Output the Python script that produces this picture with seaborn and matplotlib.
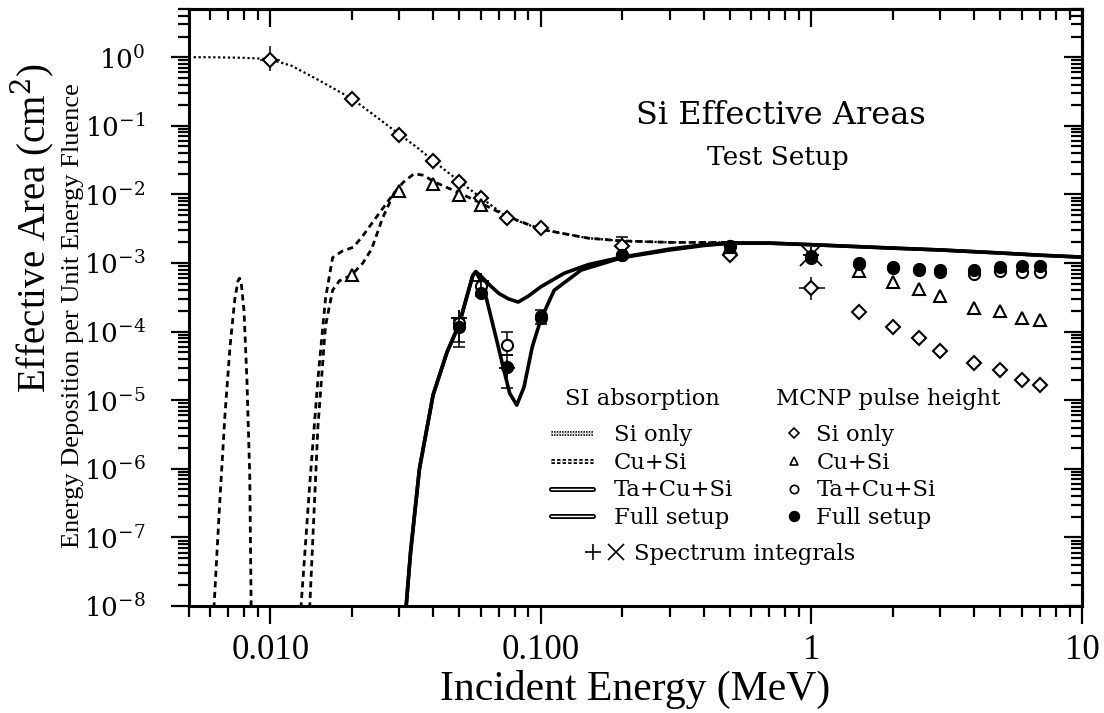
import numpy as np
import matplotlib
matplotlib.use("Agg")
import matplotlib.pyplot as plt
import matplotlib.patheffects as pe
import seaborn as sns
from matplotlib.lines import Line2D
from matplotlib.legend_handler import HandlerTuple
from matplotlib.ticker import FixedLocator, LogLocator, NullFormatter, FixedFormatter

# ---------------- data: SI absorption calculations (curves) ----------------
si_only_E = [0.005, 0.006, 0.007, 0.008, 0.009, 0.010, 0.012, 0.015, 0.020, 0.025, 0.030,
             0.035, 0.040, 0.050, 0.060, 0.075, 0.100, 0.150, 0.200, 0.300, 0.500, 0.700,
             1.0, 2.0, 3.0, 5.0, 7.0, 10.0]
si_only_A = [1.0, 1.0, 0.99, 0.98, 0.96, 0.93, 0.75, 0.47, 0.25, 0.13, 0.075,
             0.048, 0.031, 0.0155, 0.0090, 0.0047, 0.0031, 0.0023, 0.0021, 0.0020, 0.0020, 0.00195,
             0.00185, 0.00165, 0.00155, 0.0014, 0.0013, 0.00122]

cu_si_E = [0.0060, 0.0062, 0.0065, 0.0068, 0.0071, 0.0074, 0.0076, 0.0077, 0.0078, 0.0080,
           0.0082, 0.0084, 0.0085, 0.0087, 0.0128, 0.0130, 0.0140, 0.0150, 0.0160, 0.0170,
           0.0185, 0.0203, 0.0220, 0.0250, 0.0287, 0.0310, 0.0340, 0.0370, 0.0400, 0.0500,
           0.0600, 0.0750, 0.1000, 0.1500, 0.2000, 0.3000, 0.5000, 0.7, 1.0, 2.0, 3.0, 5.0, 7.0, 10.0]
cu_si_A = [1e-10, 1e-8, 3e-7, 6e-6, 6e-5, 3e-4, 5.5e-4, 6e-4, 5.5e-4, 2e-4,
           2e-5, 8e-7, 1e-8, 1e-10, 1e-10, 1e-8, 6e-7, 2e-5, 3e-4, 1.2e-3,
           1.5e-3, 1.7e-3, 2.5e-3, 5e-3, 0.0105, 0.015, 0.020, 0.019, 0.0155, 0.0105,
           0.0075, 0.0048, 0.0031, 0.0023, 0.0021, 0.0020, 0.0020, 0.00195, 0.00185, 0.00165,
           0.00155, 0.0014, 0.0013, 0.00122]

cu_si_b_E = [0.0138, 0.0140, 0.0150, 0.0160, 0.0170, 0.0180, 0.0200, 0.0220, 0.0237, 0.0260, 0.0287]
cu_si_b_A = [1e-10, 1e-8, 4e-6, 1.2e-4, 4e-4, 5.5e-4, 6.7e-4, 1.0e-3, 1.6e-3, 4.5e-3, 0.0105]

ta_cu_si_E = [0.0310, 0.0318, 0.0330, 0.0356, 0.0400, 0.0450, 0.0500, 0.0530, 0.0560, 0.0575,
              0.0600, 0.0650, 0.0700, 0.0760, 0.0825, 0.0900, 0.1000, 0.1220, 0.1500, 0.2000,
              0.3000, 0.4000, 0.5000, 0.7, 1.0, 2.0, 3.0, 5.0, 7.0, 10.0]
ta_cu_si_A = [1e-10, 1e-8, 6e-8, 1e-6, 1.2e-5, 5e-5, 1.3e-4, 3e-4, 6.5e-4, 7.5e-4,
              6.5e-4, 4.7e-4, 3.6e-4, 3.0e-4, 2.7e-4, 3.3e-4, 4.5e-4, 7.1e-4, 9.5e-4, 1.22e-3,
              1.6e-3, 1.85e-3, 1.95e-3, 1.95e-3, 1.85e-3, 1.65e-3, 1.55e-3, 1.4e-3, 1.3e-3, 1.22e-3]

full_E = [0.0310, 0.0318, 0.0330, 0.0356, 0.0400, 0.0450, 0.0500, 0.0530, 0.0560, 0.0575,
          0.0600, 0.0630, 0.0658, 0.0690, 0.0715, 0.0767, 0.0815, 0.0867, 0.0930, 0.1000,
          0.1120, 0.1410, 0.2000, 0.3000, 0.4000, 0.5000, 0.7, 1.0, 2.0, 3.0, 5.0, 7.0, 10.0]
full_A = [1e-10, 1e-8, 6e-8, 1e-6, 1.2e-5, 5e-5, 1.3e-4, 3e-4, 6.5e-4, 7.5e-4,
          5.5e-4, 3e-4, 1.5e-4, 7e-5, 3.9e-5, 1.27e-5, 8.5e-6, 1.56e-5, 6e-5, 1.5e-4,
          4.0e-4, 7.9e-4, 1.2e-3, 1.55e-3, 1.8e-3, 1.95e-3, 1.95e-3, 1.85e-3, 1.65e-3, 1.55e-3,
          1.4e-3, 1.3e-3, 1.22e-3]

# ---------------- data: MCNP pulse height (markers) ----------------
mc_si_E = [0.01, 0.02, 0.03, 0.04, 0.05, 0.06, 0.075, 0.1, 0.2, 0.5, 1.0,
           1.5, 2.0, 2.5, 3.0, 4.0, 5.0, 6.0, 7.0]
mc_si_A = [0.91, 0.246, 0.073, 0.031, 0.0152, 0.0089, 0.0045, 0.0032, 0.0018, 0.0013, 4.3e-4,
           1.93e-4, 1.17e-4, 8.1e-5, 5.2e-5, 3.5e-5, 2.8e-5, 2.0e-5, 1.65e-5]

mc_cusi_E = [0.02, 0.03, 0.04, 0.05, 0.06, 0.5, 1.5, 2.0, 2.5, 3.0, 4.0, 5.0, 6.0, 7.0]
mc_cusi_A = [6.7e-4, 0.0112, 0.0142, 0.0098, 0.0069, 1.7e-3, 7.6e-4, 5.3e-4, 4.2e-4, 3.3e-4,
             2.2e-4, 2.0e-4, 1.6e-4, 1.5e-4]

mc_ta_E = [0.05, 0.06, 0.075, 0.1, 0.2, 0.5, 1.0, 1.5, 2.0, 2.5, 3.0, 4.0, 5.0, 6.0, 7.0]
mc_ta_A = [1.33e-4, 4.7e-4, 6.4e-5, 1.6e-4, 1.3e-3, 1.8e-3, 1.2e-3, 9.6e-4, 8.5e-4, 8.0e-4,
           7.5e-4, 7.0e-4, 7.6e-4, 7.4e-4, 7.4e-4]

mc_full_E = [0.05, 0.06, 0.075, 0.1, 0.2, 0.5, 1.0, 1.5, 2.0, 2.5, 3.0, 4.0, 5.0, 6.0, 7.0]
mc_full_A = [1.15e-4, 3.7e-4, 3.1e-5, 1.7e-4, 1.3e-3, 1.8e-3, 1.25e-3, 1.0e-3, 8.8e-4, 8.2e-4,
             7.8e-4, 7.8e-4, 8.8e-4, 9.0e-4, 9.0e-4]

# error bars with caps (value, lower, upper)
err_E = [0.05, 0.05, 0.06, 0.075, 0.075, 0.1, 0.2]
err_A = [1.33e-4, 1.15e-4, 4.7e-4, 6.4e-5, 3.1e-5, 1.7e-4, 1.8e-3]
err_lo = [7e-5, 6e-5, 3.3e-4, 4.6e-5, 1.5e-5, 1.3e-4, 1.8e-3]
err_hi = [1.6e-4, 1.5e-4, 5.5e-4, 1.0e-4, 4.5e-5, 2.1e-4, 2.4e-3]

# error crosses without caps on the Si-only points
cross_E = [0.01, 1.0]
cross_A = [0.91, 4.3e-4]
cross_lo = [0.62, 2.9e-4]
cross_hi = [1.45, 6.3e-4]
cross_xlo = [0.0092, 0.90]
cross_xhi = [0.0109, 1.12]

# spectrum integrals
spec_plus_E = [0.05, 0.06, 0.075, 1.0]
spec_plus_A = [1.6e-4, 5.5e-4, 3.0e-5, 1.3e-3]
spec_x_E = [1.0]
spec_x_A = [1.3e-3]

# ticks
x_major = [0.01, 0.1, 1, 10]
x_major_labels = ["0.010", "0.100", "1", "10"]
y_major = [1e-8, 1e-7, 1e-6, 1e-5, 1e-4, 1e-3, 1e-2, 1e-1, 1e0]
y_major_labels = [r"$10^{-8}$", r"$10^{-7}$", r"$10^{-6}$", r"$10^{-5}$", r"$10^{-4}$",
                  r"$10^{-3}$", r"$10^{-2}$", r"$10^{-1}$", r"$10^{0}$"]

# ---------------- style ----------------
sns.set_theme(style="ticks")
K = "black"
plt.rcParams.update({
    "font.family": ["DejaVu Serif"],
    "mathtext.fontset": "dejavuserif",
    "axes.linewidth": 2.2,
    "text.color": K, "axes.labelcolor": K, "axes.edgecolor": K,
    "xtick.color": K, "ytick.color": K,
    "xtick.labelcolor": K, "ytick.labelcolor": K,
})

fig = plt.figure(figsize=(11.04, 7.13), dpi=100)
ax = fig.add_axes([0.171, 0.150, 0.809, 0.837])
ax.set_xscale("log")
ax.set_yscale("log")

sns.lineplot(x=si_only_E, y=si_only_A, ax=ax, color=K, lw=1.6, linestyle=(0, (1, 1.2)),
             sort=False, estimator=None)
sns.lineplot(x=cu_si_E, y=cu_si_A, ax=ax, color=K, lw=2.0, linestyle=(0, (2.2, 1.6)),
             sort=False, estimator=None)
sns.lineplot(x=cu_si_b_E, y=cu_si_b_A, ax=ax, color=K, lw=2.0, linestyle=(0, (2.2, 1.6)),
             sort=False, estimator=None)
sns.lineplot(x=ta_cu_si_E, y=ta_cu_si_A, ax=ax, color=K, lw=2.6, sort=False, estimator=None)
sns.lineplot(x=full_E, y=full_A, ax=ax, color=K, lw=2.6, sort=False, estimator=None)

# error bars
ax.errorbar(err_E, err_A,
            yerr=[np.array(err_A) - np.array(err_lo), np.array(err_hi) - np.array(err_A)],
            fmt="none", ecolor=K, elinewidth=1.1, capsize=4, capthick=1.1, zorder=3)
ax.errorbar(cross_E, cross_A,
            yerr=[np.array(cross_A) - np.array(cross_lo), np.array(cross_hi) - np.array(cross_A)],
            xerr=[np.array(cross_E) - np.array(cross_xlo), np.array(cross_xhi) - np.array(cross_E)],
            fmt="none", ecolor=K, elinewidth=1.1, capsize=0, zorder=3)

# MCNP markers
ax.plot(mc_si_E, mc_si_A, ls="none", marker="D", ms=7, mfc="white", mec=K, mew=1.5, zorder=5)
ax.plot(mc_cusi_E, mc_cusi_A, ls="none", marker="^", ms=9, mfc="white", mec=K, mew=1.5, zorder=5)
ax.plot(mc_ta_E, mc_ta_A, ls="none", marker="o", ms=8, mfc="white", mec=K, mew=1.5, zorder=5)
ax.plot(mc_full_E, mc_full_A, ls="none", marker="o", ms=8, mfc=K, mec=K, mew=1.5, zorder=6)
ax.plot(spec_plus_E, spec_plus_A, ls="none", marker="+", ms=12, mec=K, mew=1.3, zorder=7)
ax.plot(spec_x_E, spec_x_A, ls="none", marker="x", ms=16, mec=K, mew=1.3, zorder=7)

ax.set_xlim(0.005, 10)
ax.set_ylim(1e-8, 5)

# ticks: bottom/left outward with labels
ax.xaxis.set_major_locator(FixedLocator(x_major))
ax.xaxis.set_major_formatter(FixedFormatter(x_major_labels))
ax.xaxis.set_minor_locator(LogLocator(base=10, subs=np.arange(2, 10)))
ax.xaxis.set_minor_formatter(NullFormatter())
ax.yaxis.set_major_locator(FixedLocator(y_major))
ax.yaxis.set_major_formatter(FixedFormatter(y_major_labels))
ax.yaxis.set_minor_locator(LogLocator(base=10, subs=np.arange(2, 10), numticks=30))
ax.yaxis.set_minor_formatter(NullFormatter())
ax.tick_params(which="both", direction="out", top=False, right=False, color=K, width=1.6)
ax.tick_params(which="major", length=13)
ax.tick_params(which="minor", length=8)
ax.tick_params(axis="x", which="major", labelsize=25, pad=7)
ax.tick_params(axis="y", which="major", labelsize=19, pad=18)
for t in ax.get_xticklabels():
    t.set_family("Liberation Serif")

# top/right inward ticks
secx = ax.secondary_xaxis("top", functions=(lambda v: v, lambda v: v))
secx.xaxis.set_major_locator(FixedLocator(x_major))
secx.xaxis.set_minor_locator(LogLocator(base=10, subs=np.arange(2, 10)))
secx.tick_params(which="both", direction="in", labeltop=False, width=1.6, color=K)
secx.tick_params(which="major", length=13)
secx.tick_params(which="minor", length=8)
secy = ax.secondary_yaxis("right", functions=(lambda v: v, lambda v: v))
secy.yaxis.set_major_locator(FixedLocator(y_major))
secy.yaxis.set_minor_locator(LogLocator(base=10, subs=np.arange(2, 10), numticks=30))
secy.tick_params(which="both", direction="in", labelright=False, width=1.6, color=K)
secy.tick_params(which="major", length=13)
secy.tick_params(which="minor", length=8)
for s in list(secx.spines.values()) + list(secy.spines.values()):
    s.set_linewidth(2.2)
    s.set_edgecolor(K)

ax.set_xlabel("Incident Energy (MeV)", family="Liberation Serif", fontsize=30, labelpad=2)
fig.text(0.029, 0.68, r"Effective Area (cm$^2$)", rotation=90, ha="center", va="center",
         family="Liberation Serif", fontsize=28)
fig.text(0.066, 0.558, "Energy Deposition per Unit Energy Fluence", rotation=90, ha="center",
         va="center", family="Liberation Serif", fontsize=19)

ax.text(0.663, 0.822, "Si Effective Areas", transform=ax.transAxes, ha="center", va="center",
        fontsize=23)
ax.text(0.660, 0.752, "Test Setup", transform=ax.transAxes, ha="center", va="center",
        fontsize=19)

# legends (double-line look for the calculation styles)
FS = 16.3
dbl = [pe.Stroke(linewidth=3.6, foreground=K), pe.Stroke(linewidth=1.0, foreground="white")]
line_handles = [
    Line2D([], [], color=K, lw=1.6, linestyle=(0, (0.6, 0.6)), path_effects=dbl),
    Line2D([], [], color=K, lw=2.0, linestyle=(0, (1.2, 0.8)), path_effects=dbl),
    Line2D([], [], color=K, lw=2.6, path_effects=dbl),
    Line2D([], [], color=K, lw=2.6, path_effects=dbl),
]
labels = ["Si only", "Cu+Si", "Ta+Cu+Si", "Full setup"]
leg1 = ax.legend(line_handles, labels, title="SI absorption", loc="upper left",
                 bbox_to_anchor=(0.406, 0.365), frameon=False, fontsize=FS, title_fontsize=FS,
                 handlelength=1.85, handletextpad=0.9, labelspacing=0.25, borderpad=0,
                 borderaxespad=0)
leg1._legend_box.sep = 10
ax.add_artist(leg1)
mark_handles = [
    Line2D([], [], ls="none", marker="D", ms=5, mfc="white", mec=K, mew=1.2),
    Line2D([], [], ls="none", marker="^", ms=6, mfc="white", mec=K, mew=1.2),
    Line2D([], [], ls="none", marker="o", ms=6, mfc="white", mec=K, mew=1.2),
    Line2D([], [], ls="none", marker="o", ms=7, mfc=K, mec=K, mew=1.2),
]
leg2 = ax.legend(mark_handles, labels, title="MCNP pulse height", loc="upper left",
                 bbox_to_anchor=(0.657, 0.365), frameon=False, fontsize=FS, title_fontsize=FS,
                 handlelength=1.6, handletextpad=0.2, labelspacing=0.25, borderpad=0,
                 borderaxespad=0)
leg2._legend_box.align = "left"
leg2._legend_box.sep = 10
ax.add_artist(leg2)
spec_handle = (Line2D([], [], ls="none", marker="+", ms=12, mec=K, mew=1.2),
               Line2D([], [], ls="none", marker="x", ms=11, mec=K, mew=1.2))
leg3 = ax.legend([spec_handle], ["Spectrum integrals"], loc="upper left",
                 bbox_to_anchor=(0.44, 0.106), frameon=False, fontsize=FS,
                 handler_map={tuple: HandlerTuple(ndivide=None, pad=0.0)},
                 handlelength=2.0, handletextpad=0.3, borderpad=0, borderaxespad=0)

fig.savefig("out.png", dpi=100)
